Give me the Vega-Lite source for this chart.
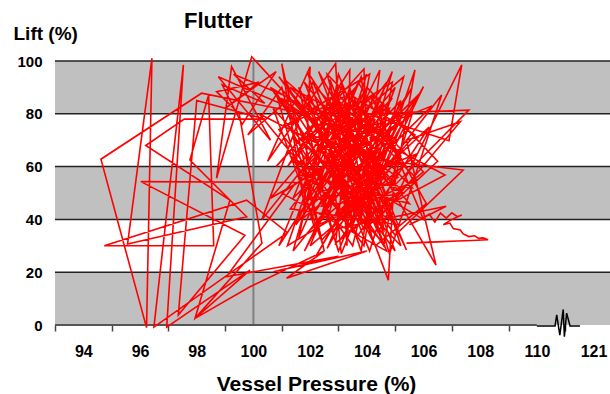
{
  "$schema": "https://vega.github.io/schema/vega-lite/v6.json",
  "autosize": "none",
  "width": 555,
  "height": 264,
  "padding": {"left": 55, "top": 61, "right": 0, "bottom": 69},
  "background": "white",
  "config": {"view": {"stroke": null}, "font": "Liberation Sans"},
  "title": {"text": "Flutter", "font": "Liberation Sans Narrow, Liberation Sans", "fontSize": 22, "fontWeight": "bold", "anchor": "start", "frame": "group", "dx": 129, "baseline": "alphabetic", "offset": 0, "dy": 26, "color": "black"},
  "datasets": {
    "bands": [{"y1": 0, "y2": 20}, {"y1": 40, "y2": 60}, {"y1": 80, "y2": 100}],
    "grid": [{"g": 20}, {"g": 40}, {"g": 60}, {"g": 80}, {"g": 100}],
    "vline": [{"x": 100, "y": 0, "y2": 100}],
    "base": [{"x": 93, "x2": 110, "y": 0}],
    "brk": [{"x": 110.0, "y": -0.4}, {"x": 110.64, "y": -0.4}, {"x": 110.7, "y": 3.8}, {"x": 110.81, "y": -3.8}, {"x": 110.93, "y": 5.9}, {"x": 110.97, "y": -4.4}, {"x": 111.05, "y": 4.5}, {"x": 111.17, "y": -0.4}, {"x": 111.52, "y": -0.4}],
    "lift": [
      {"x": 103.5, "y": 60}, {"x": 99.94, "y": 101.6}, {"x": 98.7, "y": 55.6}, {"x": 99.23, "y": 97.9}, {"x": 100.6, "y": 70},
      {"x": 98.76, "y": 94}, {"x": 101.8, "y": 80}, {"x": 98.17, "y": 87.8}, {"x": 94.62, "y": 62.8}, {"x": 96.23, "y": -1},
      {"x": 96.42, "y": 101}, {"x": 95.56, "y": 30.7}, {"x": 99.76, "y": 41}, {"x": 97.76, "y": 62.5}, {"x": 98.42, "y": 87.1},
      {"x": 98.6, "y": 30}, {"x": 94.74, "y": 30}, {"x": 99.76, "y": 47.3}, {"x": 101.2, "y": 35}, {"x": 96.49, "y": -0.8},
      {"x": 97.53, "y": 98.5}, {"x": 96.94, "y": -0.8}, {"x": 99.88, "y": 20.8}, {"x": 97.94, "y": 2.5}, {"x": 99.17, "y": 47.3},
      {"x": 96.2, "y": 68}, {"x": 97.56, "y": 78}, {"x": 100.4, "y": 78}, {"x": 98.0, "y": 85}, {"x": 97.35, "y": 3.8},
      {"x": 99.7, "y": 34}, {"x": 96.03, "y": 54.3}, {"x": 101.5, "y": 54}, {"x": 99.05, "y": 18.3}, {"x": 103.0, "y": 26},
      {"x": 100.7, "y": 20.2}, {"x": 104.0, "y": 28}, {"x": 101.17, "y": 17.7}, {"x": 102.5, "y": 28}, {"x": 99.88, "y": 14.5},
      {"x": 97.94, "y": 2.5}, {"x": 100.3, "y": 31},
      {"x": 99.5, "y": 80}, {"x": 98.7, "y": 88.4}, {"x": 100.2, "y": 92}, {"x": 99.0, "y": 82}, {"x": 100.8, "y": 96},
      {"x": 99.6, "y": 76}, {"x": 98.9, "y": 91}, {"x": 100.4, "y": 84}, {"x": 99.3, "y": 95}, {"x": 101.3, "y": 86},
      {"x": 99.8, "y": 72}, {"x": 101.0, "y": 90},
      {"x": 102.5, "y": 28}, {"x": 101.0, "y": 99}, {"x": 101.8, "y": 45}, {"x": 102.0, "y": 97.8}, {"x": 100.5, "y": 62},
      {"x": 102.9, "y": 99}, {"x": 103.3, "y": 30}, {"x": 103.4, "y": 96.6}, {"x": 101.2, "y": 60}, {"x": 104.0, "y": 95},
      {"x": 102.2, "y": 35}, {"x": 100.8, "y": 88}, {"x": 103.8, "y": 40}, {"x": 104.46, "y": 96.6}, {"x": 102.6, "y": 55},
      {"x": 105.2, "y": 85}, {"x": 103.0, "y": 28}, {"x": 101.4, "y": 82}, {"x": 104.6, "y": 30}, {"x": 105.7, "y": 96.6},
      {"x": 104.2, "y": 50}, {"x": 106.0, "y": 90.3}, {"x": 103.6, "y": 45}, {"x": 106.64, "y": 87.1}, {"x": 104.8, "y": 27},
      {"x": 103.2, "y": 84}, {"x": 105.4, "y": 28.4}, {"x": 102.7, "y": 90}, {"x": 101.6, "y": 33}, {"x": 103.9, "y": 88},
      {"x": 100.3, "y": 40}, {"x": 102.1, "y": 92}, {"x": 104.4, "y": 35}, {"x": 107.35, "y": 98.5}, {"x": 106.9, "y": 69.8},
      {"x": 104.0, "y": 80}, {"x": 107.6, "y": 81.4}, {"x": 104.9, "y": 52}, {"x": 101.9, "y": 86}, {"x": 104.1, "y": 28},
      {"x": 105.6, "y": 80}, {"x": 103.5, "y": 62}, {"x": 100.2, "y": 80}, {"x": 103.7, "y": 34}, {"x": 106.2, "y": 75},
      {"x": 102.9, "y": 42}, {"x": 104.7, "y": 92}, {"x": 101.3, "y": 44}, {"x": 105.1, "y": 38}, {"x": 103.0, "y": 95},
      {"x": 102.3, "y": 50}, {"x": 105.8, "y": 65}, {"x": 102.0, "y": 30}, {"x": 104.3, "y": 88}, {"x": 101.6, "y": 57},
      {"x": 105.5, "y": 46}, {"x": 102.8, "y": 80}, {"x": 100.9, "y": 30}, {"x": 103.6, "y": 75}, {"x": 106.44, "y": 22.7},
      {"x": 105.4, "y": 70}, {"x": 107.3, "y": 77}, {"x": 104.4, "y": 40}, {"x": 102.4, "y": 84}, {"x": 104.76, "y": 17},
      {"x": 105.0, "y": 62}, {"x": 103.1, "y": 33}, {"x": 106.0, "y": 58}, {"x": 102.6, "y": 95}, {"x": 103.8, "y": 48},
      {"x": 101.7, "y": 70}, {"x": 104.9, "y": 92}, {"x": 103.9, "y": 30}, {"x": 100.9, "y": 74}, {"x": 103.5, "y": 88},
      {"x": 105.2, "y": 30}, {"x": 102.1, "y": 65}, {"x": 106.3, "y": 83}, {"x": 103.2, "y": 50}, {"x": 101.1, "y": 93},
      {"x": 104.6, "y": 60}, {"x": 102.0, "y": 36}, {"x": 105.9, "y": 88}, {"x": 104.2, "y": 70}, {"x": 100.6, "y": 48},
      {"x": 103.0, "y": 78}, {"x": 106.76, "y": 56.8}, {"x": 104.5, "y": 44}, {"x": 102.9, "y": 85}, {"x": 101.4, "y": 28},
      {"x": 104.0, "y": 63}, {"x": 107.4, "y": 58.7}, {"x": 105.0, "y": 34}, {"x": 102.5, "y": 72}, {"x": 104.8, "y": 82},
      {"x": 103.3, "y": 38}, {"x": 101.2, "y": 76}, {"x": 104.1, "y": 95}, {"x": 103.4, "y": 55}, {"x": 105.6, "y": 52},
      {"x": 102.2, "y": 90}, {"x": 104.3, "y": 30}, {"x": 106.1, "y": 46}, {"x": 103.7, "y": 92}, {"x": 101.9, "y": 52},
      {"x": 104.9, "y": 75}, {"x": 103.1, "y": 27}, {"x": 102.7, "y": 70}, {"x": 105.3, "y": 94}, {"x": 104.0, "y": 42},
      {"x": 100.7, "y": 82}, {"x": 102.4, "y": 32}, {"x": 105.7, "y": 72}, {"x": 103.6, "y": 86}, {"x": 101.5, "y": 38},
      {"x": 104.6, "y": 84}, {"x": 103.8, "y": 28}, {"x": 102.8, "y": 60}, {"x": 106.0, "y": 40}, {"x": 104.2, "y": 86},
      {"x": 102.1, "y": 78}, {"x": 103.4, "y": 44}, {"x": 105.0, "y": 90}, {"x": 103.0, "y": 64}, {"x": 101.0, "y": 50},
      {"x": 104.7, "y": 28}, {"x": 102.3, "y": 96}, {"x": 104.4, "y": 55}, {"x": 105.4, "y": 80}, {"x": 103.2, "y": 72},
      {"x": 101.8, "y": 92}, {"x": 103.9, "y": 36}, {"x": 106.5, "y": 62}, {"x": 104.0, "y": 90}, {"x": 102.6, "y": 40},
      {"x": 105.1, "y": 56}, {"x": 100.9, "y": 86}, {"x": 104.5, "y": 74}, {"x": 103.5, "y": 30}, {"x": 101.3, "y": 64},
      {"x": 104.8, "y": 40}, {"x": 102.9, "y": 88}, {"x": 105.2, "y": 64},
      {"x": 102.8, "y": 35}, {"x": 101.6, "y": 90}, {"x": 104.2, "y": 32}, {"x": 103.1, "y": 92}, {"x": 101.4, "y": 48},
      {"x": 104.9, "y": 86}, {"x": 102.0, "y": 40}, {"x": 103.7, "y": 70}, {"x": 101.8, "y": 28}, {"x": 104.3, "y": 78},
      {"x": 102.4, "y": 45}, {"x": 105.3, "y": 50}, {"x": 102.6, "y": 82}, {"x": 100.8, "y": 60}, {"x": 103.9, "y": 97},
      {"x": 104.1, "y": 38}, {"x": 101.9, "y": 74}, {"x": 105.0, "y": 28}, {"x": 102.7, "y": 93}, {"x": 103.3, "y": 48},
      {"x": 100.6, "y": 90}, {"x": 104.4, "y": 66}, {"x": 102.2, "y": 26}, {"x": 105.6, "y": 90}, {"x": 103.6, "y": 58},
      {"x": 101.5, "y": 84}, {"x": 104.7, "y": 46}, {"x": 102.9, "y": 31}, {"x": 103.4, "y": 80}, {"x": 105.1, "y": 70},
      {"x": 101.7, "y": 40}, {"x": 104.0, "y": 85}, {"x": 102.5, "y": 60}, {"x": 103.8, "y": 94}, {"x": 104.6, "y": 36},
      {"x": 102.0, "y": 72}, {"x": 105.4, "y": 60}, {"x": 103.1, "y": 90}, {"x": 101.2, "y": 30}, {"x": 104.3, "y": 50},
      {"x": 102.8, "y": 68}, {"x": 100.9, "y": 94}, {"x": 103.7, "y": 52}, {"x": 104.9, "y": 96}, {"x": 102.3, "y": 38},
      {"x": 105.8, "y": 55}, {"x": 103.0, "y": 85}, {"x": 101.6, "y": 66}, {"x": 104.5, "y": 32}, {"x": 103.4, "y": 90},
      {"x": 102.1, "y": 46}, {"x": 104.8, "y": 70}, {"x": 101.3, "y": 90}, {"x": 103.9, "y": 62}, {"x": 102.6, "y": 29},
      {"x": 105.2, "y": 78}, {"x": 103.5, "y": 40}, {"x": 101.9, "y": 96}, {"x": 104.2, "y": 58}, {"x": 102.7, "y": 36},
      {"x": 106.8, "y": 45}, {"x": 105.5, "y": 38},
      {"x": 105.9, "y": 40}, {"x": 106.2, "y": 42}, {"x": 106.4, "y": 39}, {"x": 106.6, "y": 42.4}, {"x": 106.8, "y": 40.5},
      {"x": 107.0, "y": 42.5}, {"x": 107.2, "y": 41}, {"x": 107.35, "y": 41.7}, {"x": 107.0, "y": 40}, {"x": 106.7, "y": 38},
      {"x": 106.93, "y": 38.6}, {"x": 107.05, "y": 36.5}, {"x": 107.3, "y": 36}, {"x": 107.4, "y": 34.5}, {"x": 107.6, "y": 33.5},
      {"x": 107.8, "y": 33.8}, {"x": 107.95, "y": 32.8}, {"x": 108.1, "y": 33}, {"x": 108.28, "y": 32.3}, {"x": 107.7, "y": 32},
      {"x": 107.2, "y": 31.8}, {"x": 106.5, "y": 31.5}, {"x": 105.4, "y": 31}
    ]
  },
  "layer": [
    {
      "data": {"name": "bands"},
      "mark": {"type": "rect", "color": "#C0C0C0"},
      "encoding": {
        "y": {
          "field": "y1", "type": "quantitative",
          "scale": {"domain": [0, 100], "nice": false},
          "axis": {
            "values": [0, 20, 40, 60, 80, 100],
            "labelFontSize": 15, "labelFontWeight": "bold", "labelColor": "black", "labelPadding": 13,
            "domain": false, "grid": false, "ticks": false,
            "title": "Lift (%)", "titleFontSize": 19, "titleFontWeight": "bold", "titleColor": "black",
            "titleAngle": 0, "titleAlign": "left", "titleBaseline": "alphabetic", "titleX": -42, "titleY": -22
          }
        },
        "y2": {"field": "y2"}
      }
    },
    {
      "data": {"name": "grid"},
      "mark": {"type": "rule", "color": "#222222", "strokeWidth": 1.5},
      "encoding": {"y": {"field": "g", "type": "quantitative"}}
    },
    {
      "data": {"name": "vline"},
      "mark": {"type": "rule", "color": "#808080", "strokeWidth": 2},
      "encoding": {
        "x": {
          "field": "x", "type": "quantitative",
          "scale": {"domain": [93, 112.58], "nice": false, "zero": false},
          "axis": {
            "values": [93, 95, 97, 99, 101, 103, 105, 107, 109, 111],
            "labelExpr": "datum.value == 111 ? '121' : format(datum.value + 1, 'd')",
            "labelOffset": 28.35, "labelFlush": false, "labelOverlap": false, "labelBound": false,
            "labelFontSize": 16, "labelFontWeight": "bold", "labelColor": "black", "labelPadding": 12,
            "domain": false, "grid": false, "ticks": true, "tickSize": 6, "tickWidth": 1.5, "tickColor": "#444444",
            "title": "Vessel Pressure (%)", "titleFontSize": 21, "titleFontWeight": "bold", "titleColor": "black",
            "titleX": 261, "titleY": 65, "titleBaseline": "alphabetic", "titleAlign": "center"
          }
        },
        "y": {"field": "y", "type": "quantitative"},
        "y2": {"field": "y2"}
      }
    },
    {
      "data": {"name": "base"},
      "mark": {"type": "rule", "color": "#555555", "strokeWidth": 2},
      "encoding": {
        "x": {"field": "x", "type": "quantitative"},
        "x2": {"field": "x2"},
        "y": {"field": "y", "type": "quantitative"}
      }
    },
    {
      "data": {"name": "lift"},
      "mark": {"type": "line", "color": "#FF0000", "strokeWidth": 1.6, "clip": false},
      "encoding": {
        "x": {"field": "x", "type": "quantitative"},
        "y": {"field": "y", "type": "quantitative"},
        "order": {"value": null}
      }
    },
    {
      "data": {"name": "brk"},
      "mark": {"type": "line", "color": "black", "strokeWidth": 1.5, "clip": false},
      "encoding": {
        "x": {"field": "x", "type": "quantitative"},
        "y": {"field": "y", "type": "quantitative"},
        "order": {"value": null}
      }
    }
  ]
}
